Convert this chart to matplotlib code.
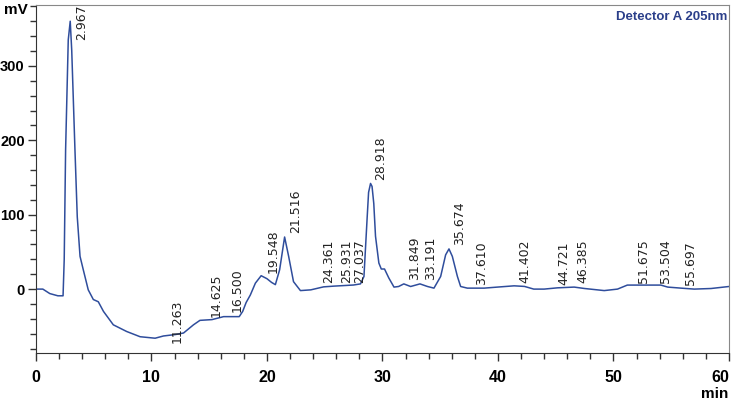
import matplotlib
matplotlib.use('Agg')
import matplotlib.pyplot as plt
from matplotlib.ticker import MultipleLocator

# chromatogram trace (min, mV)
time = [0, 0.6, 1.2, 1.9, 2.35, 2.45, 2.57, 2.8, 2.97, 3.1, 3.38, 3.58, 3.82, 4.1,
        4.53, 4.97, 5.4, 5.85, 6.7, 7.86, 9.02, 10.32, 11.04, 12.1, 12.78, 13.64,
        14.2, 15.24, 16.25, 16.97, 17.6, 17.9, 18.2, 18.56, 19.0, 19.5, 20.0, 20.4,
        20.73, 21.1, 21.53, 21.88, 22.3, 22.9, 23.8, 24.9, 25.8, 26.95, 27.5, 28.1,
        28.4, 28.68, 28.8, 28.97, 29.1, 29.25, 29.4, 29.69, 29.9, 30.18, 30.55, 31.0,
        31.4, 31.85, 32.44, 33.25, 33.9, 34.46, 35.04, 35.47, 35.76, 36.05, 36.49,
        36.77, 37.35, 38.8, 39.95, 41.4, 42.3, 43.1, 44.0, 45.15, 46.6, 47.5, 49.2,
        50.35, 51.2, 52.67, 54.1, 54.7, 55.85, 57.0, 58.45, 60]
signal = [0, 0, -6, -9, -9, 40, 187, 335, 360, 321, 187, 97, 44, 26,
          -1, -14, -17, -30, -48, -57, -64, -66, -63, -61, -59, -48,
          -42, -41, -37, -37, -37, -30, -18, -8, 8, 18, 14, 9,
          6, 26, 70, 44, 10, -2, -1, 3, 4, 5, 5.5, 7,
          17, 97, 130, 142, 138, 115, 71, 35, 27, 27, 15, 2.7,
          3.5, 7, 3.5, 7, 3.5, 1.3, 17, 46, 54, 44, 17,
          3.5, 1.3, 1.3, 2.7, 4.4, 3.6, 0, 0, 1.7, 2.7, 0.8, -2,
          0, 5.4, 5.4, 5.4, 2.7, 1.3, 0, 0.8, 3.5]

# peak labels: retention time and where the label starts (mV)
peak_rt = [2.967, 11.263, 14.625, 16.500, 19.548, 21.516, 24.361, 25.931, 27.037,
           28.918, 31.849, 33.191, 35.674, 37.610, 41.402, 44.721, 46.385,
           51.675, 53.504, 55.697]
label_y = [335, -72, -37, -31, 22, 75, 8, 8, 8,
           147, 12, 12, 59, 6, 8, 6, 8,
           8, 8, 6]

x_ticks = [0, 10, 20, 30, 40, 50, 60]
y_ticks = [0, 100, 200, 300]

bold_font = 'Liberation Sans'
line_col = '#2f4d9c'

fig = plt.figure(figsize=(7.33, 4.04), dpi=100)
ax = fig.add_axes([0.049, 0.126, 0.9455, 0.862])

ax.plot(time, signal, color=line_col, linewidth=1.1)

for rt, yb in zip(peak_rt, label_y):
    ax.annotate('%.3f' % rt, (rt, yb), xytext=(8, 0), textcoords='offset points',
                rotation=90, ha='center', va='bottom', fontsize=9, color='#222222')

ax.set_xlim(0, 60)
ax.set_ylim(-86, 382)
ax.set_xticks(x_ticks)
ax.set_yticks(y_ticks)
ax.xaxis.set_minor_locator(MultipleLocator(2))
ax.yaxis.set_minor_locator(MultipleLocator(20))
ax.tick_params(which='major', direction='out', length=6, width=1, color='#333333', pad=2)
ax.tick_params(which='minor', direction='out', length=4, width=1, color='#333333')
ax.tick_params(axis='x', pad=6)
for lab in ax.get_xticklabels():
    lab.set_family(bold_font)
    lab.set_fontweight('bold')
    lab.set_fontsize(11.5)
for lab in ax.get_yticklabels():
    lab.set_family(bold_font)
    lab.set_fontweight('bold')
    lab.set_fontsize(10.5)
ax.get_xticklabels()[-1].set_horizontalalignment('right')

for s in ['top', 'right']:
    ax.spines[s].set_color('#888888')
for s in ['left', 'bottom']:
    ax.spines[s].set_color('#333333')

fig.text(0.005, 0.975, 'mV', family=bold_font, fontweight='bold', fontsize=11, va='center', ha='left')
fig.text(0.994, 0.025, 'min', family=bold_font, fontweight='bold', fontsize=11, va='center', ha='right')
fig.text(0.992, 0.958, 'Detector A 205nm', family=bold_font, fontweight='bold', fontsize=9.5,
         color='#2b3f8a', va='center', ha='right')

plt.savefig('out.png', dpi=100)
plt.close()
